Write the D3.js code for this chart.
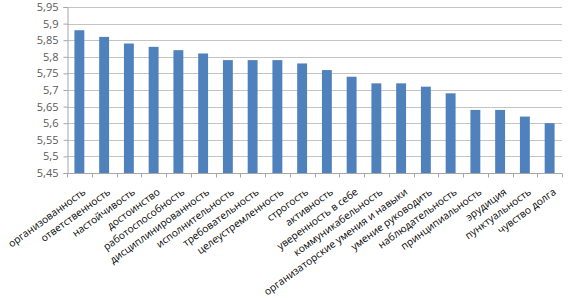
<!DOCTYPE html>
<html>
<head>
<meta charset="utf-8">
<script src="https://cdn.jsdelivr.net/npm/d3@7"></script>
<style>
  body { margin: 0; background: #fff; }
  text { font-family: "Open Sans", "DejaVu Sans", sans-serif; }
</style>
</head>
<body>
<div id="chart"></div>
<script>
const categories = [
  'организованность', 'ответственность', 'настойчивость', 'достоинство',
  'работоспособность', 'дисциплинированность', 'исполнительность', 'требовательность',
  'целеустремленность', 'строгость', 'активность', 'уверенность в себе',
  'коммуникабельность', 'организаторские умения и навыки', 'умение руководить',
  'наблюдательность', 'принципиальность', 'эрудиция', 'пунктуальность', 'чувство долга'
];
const values = [5.88, 5.86, 5.84, 5.83, 5.82, 5.81, 5.79, 5.79, 5.79, 5.78,
  5.76, 5.74, 5.72, 5.72, 5.71, 5.69, 5.64, 5.64, 5.62, 5.60];
const yTicks = [5.45, 5.5, 5.55, 5.6, 5.65, 5.7, 5.75, 5.8, 5.85, 5.9, 5.95];

const width = 573;
const height = 298;
const margin = { top: 7, right: 11, bottom: 125, left: 67 };

const svg = d3.select('#chart')
    .append('svg')
    .attr('width', width)
    .attr('height', height);

const x = d3.scaleBand()
    .domain(categories)
    .range([margin.left, width - margin.right])
    .paddingInner(0.6)
    .paddingOuter(0.3);

const y = d3.scaleLinear()
    .domain([5.45, 5.95])
    .range([height - margin.bottom, margin.top]);

// gridlines
svg.append('g')
    .selectAll('line')
    .data(yTicks.slice(1))
    .join('line')
    .attr('x1', margin.left)
    .attr('x2', width - margin.right)
    .attr('y1', d => Math.round(y(d)) + 0.5)
    .attr('y2', d => Math.round(y(d)) + 0.5)
    .attr('stroke', '#c4c4c4')
    .attr('stroke-width', 1);

// bars
svg.append('g')
    .selectAll('rect')
    .data(values)
    .join('rect')
    .attr('x', (d, i) => x(categories[i]))
    .attr('y', d => y(d))
    .attr('width', x.bandwidth())
    .attr('height', d => y(5.45) - y(d))
    .attr('fill', '#4f81bd');

// y axis
const yAxis = svg.append('g')
    .attr('transform', 'translate(' + (margin.left + 0.5) + ',0)')
    .call(d3.axisLeft(y).tickValues(yTicks).tickSize(4).tickFormat(d => String(d).replace('.', ',')));
yAxis.select('.domain').attr('stroke', '#a6a6a6');
yAxis.selectAll('.tick line').attr('stroke', '#a6a6a6');
yAxis.selectAll('text')
    .attr('fill', '#595959')
    .attr('font-size', 11)
    .attr('x', -9);

// x axis
const step = x.step();
const xAxisG = svg.append('g')
    .attr('transform', 'translate(0,' + (Math.round(y(5.45)) + 0.5) + ')');
xAxisG.append('line')
    .attr('x1', margin.left)
    .attr('x2', width - margin.right)
    .attr('stroke', '#a6a6a6');
xAxisG.selectAll('.tk')
    .data(d3.range(categories.length + 1))
    .join('line')
    .attr('class', 'tk')
    .attr('x1', i => Math.round(margin.left + i * step) + 0.5)
    .attr('x2', i => Math.round(margin.left + i * step) + 0.5)
    .attr('y1', 0)
    .attr('y2', 4)
    .attr('stroke', '#a6a6a6');

xAxisG.selectAll('.lbl')
    .data(categories)
    .join('text')
    .attr('class', 'lbl')
    .attr('transform', d => 'translate(' + (x(d) + x.bandwidth() / 2 + 5) + ',17) rotate(-36)')
    .attr('text-anchor', 'end')
    .attr('dy', '0.35em')
    .attr('font-family', '"Liberation Sans", Arial, sans-serif')
    .attr('font-size', 10.2)
    .attr('fill', '#000')
    .text(d => d);
</script>
</body>
</html>
